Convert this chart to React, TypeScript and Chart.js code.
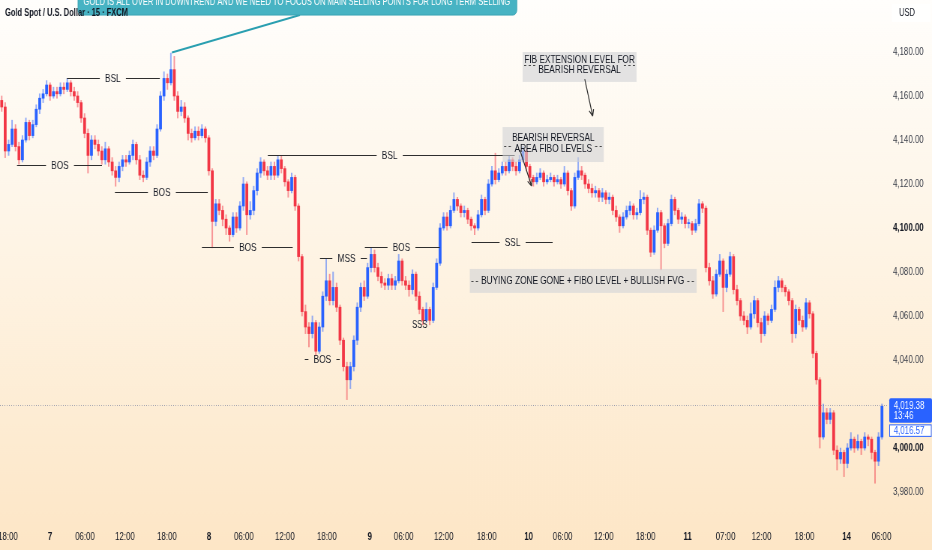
import React, { useEffect, useRef } from 'react';
import { Chart, registerables } from 'chart.js';

Chart.register(...registerables);

// ---- candle data (30-minute slots) ----
const opens = [
  4158, 4155, 4135, 4138, 4145, 4137, 4131, 4140, 4148, 4142,
  4147, 4154, 4159, 4161, 4165, 4160, 4162, 4161, 4164, 4163,
  4166, 4162, 4160, 4157, 4150, 4143, 4133, 4140, 4138, 4135,
  4131, 4136, 4130, 4126, 4123, 4128, 4131, 4130, 4133, 4138,
  4131, 4124, 4123, 4130, 4135, 4133, 4145, 4160, 4168, 4166,
  4172, 4160, 4153, 4155, 4150, 4143, 4141, 4144, 4142, 4145,
  4141, 4126, 4103, 4111, 4108, 4104, 4100, 4097, 4105, 4100,
  4110, 4120, 4106, 4108, 4117, 4125, 4130, 4126, 4124, 4128,
  4124, 4131, 4127, 4121, 4117, 4123, 4110, 4087, 4062, 4055,
  4052, 4057, 4044, 4055, 4069, 4076, 4067, 4073, 4064, 4049,
  4037, 4031, 4037, 4049, 4064, 4073, 4069, 4082, 4088, 4082,
  4078, 4075, 4074, 4077, 4074, 4076, 4085, 4076, 4074, 4072,
  4079, 4069, 4063, 4058, 4063, 4058, 4073, 4084, 4100, 4105,
  4101, 4108, 4113, 4110, 4107, 4108, 4104, 4101, 4100, 4106,
  4113, 4108, 4120, 4126, 4122, 4125, 4128, 4126, 4131, 4128,
  4126, 4131, 4135, 4128, 4123, 4121, 4123, 4125, 4121, 4122,
  4123, 4121, 4122, 4120, 4125, 4117, 4110, 4123, 4126, 4124,
  4120, 4118, 4116, 4117, 4114, 4116, 4113, 4114, 4108, 4105,
  4101, 4105, 4108, 4110, 4106, 4107, 4113, 4114, 4099, 4089,
  4099, 4107, 4101, 4093, 4102, 4113, 4108, 4104, 4105, 4102,
  4102, 4099, 4102, 4111, 4109, 4082, 4076, 4070, 4079, 4085,
  4073, 4079, 4087, 4072, 4067, 4060, 4058, 4055, 4061, 4067,
  4057, 4052, 4060, 4058, 4063, 4073, 4076, 4073, 4071, 4067,
  4052, 4063, 4058, 4055, 4066, 4061, 4043, 4031, 4005, 4016,
  4013, 4016, 3999, 3995, 3998, 3993, 4000, 4004, 4000, 4003,
  4000, 4005, 4004, 3998, 3994, 4005,
];

const highs = [
  4160, 4157, 4140, 4149, 4147, 4139, 4142, 4150, 4149, 4149,
  4156, 4161, 4163, 4167, 4166, 4164, 4164, 4166, 4166, 4168,
  4167, 4164, 4162, 4158, 4152, 4145, 4142, 4142, 4140, 4137,
  4139, 4137, 4132, 4128, 4130, 4133, 4133, 4135, 4140, 4139,
  4133, 4126, 4132, 4137, 4137, 4147, 4162, 4171, 4170, 4179.5,
  4178, 4162, 4158, 4157, 4151, 4145, 4146, 4146, 4147, 4146,
  4142, 4127, 4113, 4113, 4110, 4106, 4101, 4107, 4107, 4112,
  4123, 4121, 4112, 4119, 4127, 4132, 4131, 4128, 4130, 4130,
  4133, 4133, 4128, 4122, 4125, 4124, 4111, 4088, 4065, 4057,
  4060, 4058, 4057, 4071, 4086, 4079, 4080, 4075, 4065, 4050,
  4039, 4039, 4051, 4066, 4075, 4076, 4084, 4091, 4090, 4084,
  4080, 4077, 4079, 4079, 4078, 4088, 4086, 4078, 4076, 4081,
  4080, 4071, 4064, 4066, 4064, 4075, 4086, 4102, 4107, 4107,
  4110, 4116, 4114, 4111, 4110, 4109, 4105, 4102, 4108, 4115,
  4114, 4122, 4128, 4134, 4127, 4130, 4130, 4133, 4132, 4130,
  4133, 4137, 4136, 4129, 4124, 4125, 4127, 4126, 4124, 4125,
  4124, 4124, 4123, 4128, 4126, 4118, 4125, 4132, 4128, 4125,
  4122, 4120, 4119, 4118, 4118, 4117, 4116, 4115, 4110, 4106,
  4107, 4110, 4112, 4111, 4109, 4117, 4116, 4115, 4100, 4101,
  4109, 4108, 4102, 4104, 4115, 4114, 4109, 4107, 4106, 4104,
  4103, 4104, 4113, 4112, 4110, 4084, 4078, 4081, 4088, 4086,
  4081, 4089, 4088, 4074, 4068, 4062, 4060, 4066, 4069, 4068,
  4059, 4062, 4061, 4065, 4076, 4078, 4077, 4074, 4072, 4068,
  4065, 4064, 4060, 4068, 4067, 4062, 4044, 4032, 4020, 4018,
  4018, 4017, 4001, 4000, 3999, 4002, 4007, 4005, 4006, 4004,
  4007, 4006, 4005, 3999, 4007, 4020,
];

const lows = [
  4153, 4132, 4133, 4137, 4135, 4129, 4130, 4139, 4140, 4141,
  4146, 4152, 4157, 4160, 4158, 4159, 4159, 4160, 4161, 4162,
  4160, 4158, 4155, 4148, 4141, 4125, 4131, 4136, 4133, 4129,
  4129, 4128, 4124, 4119, 4121, 4126, 4128, 4129, 4131, 4129,
  4122, 4121, 4122, 4128, 4131, 4132, 4144, 4158, 4163, 4165,
  4158, 4150, 4151, 4148, 4140, 4139, 4140, 4140, 4141, 4139,
  4124, 4091, 4101, 4106, 4101, 4097, 4094, 4096, 4098, 4099,
  4108, 4097, 4104, 4106, 4115, 4123, 4124, 4122, 4122, 4122,
  4123, 4125, 4119, 4114, 4116, 4108, 4085, 4060, 4052, 4046,
  4050, 4042, 4043, 4053, 4067, 4065, 4065, 4062, 4047, 4035,
  4022, 4027, 4035, 4047, 4062, 4067, 4068, 4080, 4080, 4076,
  4073, 4072, 4072, 4072, 4072, 4075, 4074, 4072, 4069, 4070,
  4067, 4061, 4056, 4057, 4056, 4057, 4072, 4083, 4099, 4099,
  4100, 4107, 4108, 4105, 4105, 4102, 4099, 4097, 4099, 4105,
  4106, 4107, 4119, 4120, 4121, 4124, 4124, 4125, 4126, 4124,
  4125, 4130, 4126, 4121, 4119, 4120, 4122, 4119, 4120, 4121,
  4119, 4120, 4118, 4119, 4115, 4108, 4109, 4122, 4122, 4118,
  4116, 4114, 4114, 4112, 4112, 4111, 4111, 4106, 4103, 4098,
  4100, 4104, 4106, 4104, 4104, 4106, 4111, 4097, 4087, 4088,
  4098, 4081, 4091, 4092, 4101, 4106, 4102, 4102, 4100, 4100,
  4097, 4098, 4101, 4107, 4080, 4074, 4068, 4069, 4078, 4062,
  4071, 4078, 4070, 4065, 4058, 4056, 4052, 4054, 4059, 4055,
  4048, 4051, 4056, 4057, 4062, 4071, 4071, 4069, 4065, 4048,
  4050, 4056, 4053, 4054, 4059, 4041, 4029, 4000, 4004, 4011,
  4011, 3997, 3990, 3993, 3987, 3991, 3999, 3998, 3999, 3997,
  3999, 4001, 3995, 3984, 3992, 4004,
];

const closes = [
  4155, 4135, 4138, 4145, 4137, 4131, 4140, 4148, 4142, 4147,
  4154, 4159, 4161, 4165, 4160, 4162, 4161, 4164, 4163, 4166,
  4162, 4160, 4157, 4150, 4143, 4133, 4140, 4138, 4135, 4131,
  4136, 4130, 4126, 4123, 4128, 4131, 4130, 4133, 4138, 4131,
  4124, 4123, 4130, 4135, 4133, 4145, 4160, 4168, 4166, 4172,
  4160, 4153, 4155, 4150, 4143, 4141, 4144, 4142, 4145, 4141,
  4126, 4103, 4111, 4108, 4104, 4100, 4097, 4105, 4100, 4110,
  4120, 4106, 4108, 4117, 4125, 4130, 4126, 4124, 4128, 4124,
  4131, 4127, 4121, 4117, 4123, 4110, 4087, 4062, 4055, 4052,
  4057, 4044, 4055, 4069, 4076, 4067, 4073, 4064, 4049, 4037,
  4031, 4037, 4049, 4064, 4073, 4069, 4082, 4088, 4082, 4078,
  4075, 4074, 4077, 4074, 4076, 4085, 4076, 4074, 4072, 4079,
  4069, 4063, 4058, 4063, 4058, 4073, 4084, 4100, 4105, 4101,
  4108, 4113, 4110, 4107, 4108, 4104, 4101, 4100, 4106, 4113,
  4108, 4120, 4126, 4122, 4125, 4128, 4126, 4131, 4128, 4126,
  4131, 4135, 4128, 4123, 4121, 4123, 4125, 4121, 4122, 4123,
  4121, 4122, 4120, 4125, 4117, 4110, 4123, 4126, 4124, 4120,
  4118, 4116, 4117, 4114, 4116, 4113, 4114, 4108, 4105, 4101,
  4105, 4108, 4110, 4106, 4107, 4113, 4114, 4099, 4089, 4099,
  4107, 4101, 4093, 4102, 4113, 4108, 4104, 4105, 4102, 4102,
  4099, 4102, 4111, 4109, 4082, 4076, 4070, 4079, 4085, 4073,
  4079, 4087, 4072, 4067, 4060, 4058, 4055, 4061, 4067, 4057,
  4052, 4060, 4058, 4063, 4073, 4076, 4073, 4071, 4067, 4052,
  4063, 4058, 4055, 4066, 4061, 4043, 4031, 4005, 4016, 4013,
  4016, 3999, 3995, 3998, 3993, 4000, 4004, 4000, 4003, 4000,
  4005, 4004, 3998, 3994, 4005, 4019,
];

// ---- time axis ticks (in candle-index units) ----
const timeTickPositions = [
  1.82, 13.98, 24.11, 35.7, 47.86, 60.02, 70.15, 82.02, 94.18, 106.63, 116.47, 128.05,
  140.5, 152.66, 162.51, 174.38, 186.54, 198.7, 209.69, 220.12, 232.57, 244.73, 254.86,
];
const timeTickLabels = [
  '18:00', '7', '06:00', '12:00', '18:00', '8', '06:00', '12:00', '18:00', '9', '06:00', '12:00',
  '18:00', '10', '06:00', '12:00', '18:00', '11', '07:00', '12:00', '18:00', '14', '06:00',
];
const dayTickLabels = ['7', '8', '9', '10', '11', '14'];

const titleText = 'Gold Spot / U.S. Dollar · 15 · FXCM';
const currencyText = 'USD';
const lastPrice = 4019.38;
const lastPriceCountdown = '13:46';
const bidPrice = 4016.57;

// ---- drawings (in index / price units) ----
const levelLines = [
  { text: 'BOS', price: 4128.6, from: 4.43, to: 29.04, at: 16.88 },
  { text: 'BSL', price: 4168.3, from: 18.9, to: 45.8, at: 32.2 },
  { text: 'BOS', price: 4116.5, from: 32.8, to: 59.7, at: 46.4 },
  { text: 'BOS', price: 4091.5, from: 58.0, to: 84.3, at: 71.3 },
  { text: 'BSL', price: 4133.2, from: 77.1, to: 148.6, at: 112.4 },
  { text: 'MSS', price: 4086.2, from: 92.2, to: 105.8, at: 99.9 },
  { text: 'BOS', price: 4091.2, from: 105.2, to: 126.9, at: 115.8 },
  { text: 'BOS', price: 4040.5, from: 87.8, to: 97.9, at: 92.9 },
  { text: 'SSL', price: 4093.8, from: 136.1, to: 159.6, at: 148.0 },
];

const freeTexts = [{ text: 'SSS', at: 121.1, price: 4055.9 }];

const noteBoxes = [
  {
    lines: ['FIB EXTENSION LEVEL FOR', 'BEARISH REVERSAL'],
    from: 150.9, to: 183.9, top: 4180, bottom: 4166.4, center: 167.4,
    linePrices: [4176.6, 4171.8], dashPrice: 4174.1,
  },
  {
    lines: ['BEARISH REVERSAL', 'AREA FIBO LEVELS'],
    from: 145.1, to: 174.4, top: 4145.9, bottom: 4130, center: 159.8,
    linePrices: [4141.1, 4136.1], dashPrice: 4137.3,
  },
  {
    lines: ['BUYING ZONE GONE + FIBO LEVEL + BULLISH FVG'],
    from: 135.6, to: 201.3, top: 4081.4, bottom: 4070.5, center: 168.3,
    linePrices: [4075.9], dashPrice: 4075.9,
  },
];

const arrows = [
  { from: [168.9, 4167.7], to: [171.2, 4150.9] },
  { from: [150.1, 4135.5], to: [153.5, 4119.1] },
];

const callout = {
  text: 'GOLD IS ALL OVER IN DOWNTREND AND WE NEED TO FOCUS ON MAIN SELLING POINTS FOR LONG TERM SELLING',
  from: 22.1, to: 149.2, top: 4209, bottom: 4196.8, center: 85.5, textPrice: 4202.6,
  pointerFrom: [86.4, 4196.8], pointerTo: [49.3, 4179.8],
};

// ---- layout (canvas is drawn wider, then condensed horizontally like the screenshot) ----
const CANVAS_W = 1243;
const CANVAS_H = 550;
const FONT = '"Liberation Sans", Arial, sans-serif';
const UP = '#2962ff';
const DOWN = '#f23645';
const UP_WICK = 'rgba(41, 98, 255, 0.5)';
const DOWN_WICK = 'rgba(242, 54, 69, 0.5)';

function fmt(v: number) {
  return v.toLocaleString('en-US', { minimumFractionDigits: 2, maximumFractionDigits: 2 });
}

function zeroPadding(s: any) {
  s.paddingLeft = 0;
  s.paddingRight = 0;
  s.paddingTop = 0;
  s.paddingBottom = 0;
}

const drawingsPlugin = {
  id: 'drawings',
  beforeDraw(chart: any) {
    const { ctx, width, height } = chart;
    const g = ctx.createLinearGradient(0, 0, 0, height);
    g.addColorStop(0, '#fffefc');
    g.addColorStop(0.5, '#fef3e2');
    g.addColorStop(1, '#fde6c6');
    ctx.save();
    ctx.fillStyle = g;
    ctx.fillRect(0, 0, width, height);
    ctx.restore();
  },
  afterDatasetsDraw(chart: any) {
    const { ctx, chartArea } = chart;
    const xs = chart.scales.x;
    const ys = chart.scales.y;
    const px = (v: number) => xs.getPixelForValue(v);
    const py = (v: number) => ys.getPixelForValue(v);
    ctx.save();

    // last price dotted line
    const yl = Math.round(py(lastPrice)) + 0.5;
    ctx.strokeStyle = 'rgba(120, 130, 160, 0.75)';
    ctx.lineWidth = 1;
    ctx.setLineDash([1, 2]);
    ctx.beginPath();
    ctx.moveTo(chartArea.left, yl);
    ctx.lineTo(chartArea.right, yl);
    ctx.stroke();
    ctx.setLineDash([]);

    // level lines with labels
    ctx.font = `11px ${FONT}`;
    ctx.textAlign = 'center';
    ctx.textBaseline = 'middle';
    for (const l of levelLines) {
      const y = Math.round(py(l.price)) + 0.5;
      const cx = px(l.at);
      const tw = ctx.measureText(l.text).width;
      ctx.strokeStyle = '#2e2e2e';
      ctx.lineWidth = 1;
      ctx.beginPath();
      ctx.moveTo(px(l.from), y);
      ctx.lineTo(cx - tw / 2 - 7, y);
      ctx.moveTo(cx + tw / 2 + 7, y);
      ctx.lineTo(px(l.to), y);
      ctx.stroke();
      ctx.fillStyle = '#131722';
      ctx.fillText(l.text, cx, y + 0.5);
    }
    for (const t of freeTexts) {
      ctx.font = `10px ${FONT}`;
      ctx.fillStyle = '#131722';
      ctx.fillText(t.text, px(t.at), py(t.price));
    }

    // note boxes
    for (const b of noteBoxes) {
      const x1 = px(b.from);
      const x2 = px(b.to);
      const y1 = py(b.top);
      const y2 = py(b.bottom);
      ctx.fillStyle = 'rgba(208, 210, 214, 0.6)';
      ctx.fillRect(x1, y1, x2 - x1, y2 - y1);
      ctx.font = `11px ${FONT}`;
      const last = b.lines[b.lines.length - 1];
      const lw = ctx.measureText(last).width;
      const cx = px(b.center);
      const dy = Math.round(py(b.dashPrice)) + 0.5;
      ctx.strokeStyle = '#4a4a4a';
      ctx.setLineDash([3, 3]);
      ctx.beginPath();
      ctx.moveTo(x1 + 2, dy);
      ctx.lineTo(cx - lw / 2 - 4, dy);
      ctx.moveTo(cx + lw / 2 + 4, dy);
      ctx.lineTo(x2 - 2, dy);
      ctx.stroke();
      ctx.setLineDash([]);
      ctx.fillStyle = '#131722';
      b.lines.forEach((ln, k) => {
        ctx.fillText(ln, cx, py(b.linePrices[k]));
      });
    }

    // arrows
    ctx.strokeStyle = '#2e2e2e';
    ctx.lineWidth = 1.2;
    for (const a of arrows) {
      const ax = px(a.from[0]);
      const ay = py(a.from[1]);
      const bx = px(a.to[0]);
      const by = py(a.to[1]);
      const ang = Math.atan2(by - ay, bx - ax);
      ctx.beginPath();
      ctx.moveTo(ax, ay);
      ctx.lineTo(bx, by);
      ctx.moveTo(bx, by);
      ctx.lineTo(bx - 7 * Math.cos(ang - 0.45), by - 7 * Math.sin(ang - 0.45));
      ctx.moveTo(bx, by);
      ctx.lineTo(bx - 7 * Math.cos(ang + 0.45), by - 7 * Math.sin(ang + 0.45));
      ctx.stroke();
    }
    ctx.restore();
  },
  afterDraw(chart: any) {
    const { ctx, chartArea, width } = chart;
    const xs = chart.scales.x;
    const ys = chart.scales.y;
    const px = (v: number) => xs.getPixelForValue(v);
    const py = (v: number) => ys.getPixelForValue(v);
    ctx.save();

    // callout
    const cx1 = px(callout.from);
    const cx2 = px(callout.to);
    const cy1 = py(callout.top);
    const cy2 = py(callout.bottom);
    ctx.strokeStyle = '#2a9fb0';
    ctx.lineWidth = 2;
    ctx.beginPath();
    ctx.moveTo(px(callout.pointerFrom[0]), py(callout.pointerFrom[1]));
    ctx.lineTo(px(callout.pointerTo[0]), py(callout.pointerTo[1]));
    ctx.stroke();
    ctx.fillStyle = '#47b3c3';
    ctx.beginPath();
    (ctx as any).roundRect(cx1, cy1, cx2 - cx1, cy2 - cy1, 5);
    ctx.fill();
    ctx.strokeStyle = '#3aa5b5';
    ctx.lineWidth = 1;
    ctx.stroke();
    ctx.fillStyle = '#ffffff';
    ctx.font = `11px ${FONT}`;
    ctx.textAlign = 'center';
    ctx.textBaseline = 'middle';
    ctx.fillText(callout.text, px(callout.center), py(callout.textPrice), cx2 - cx1 - 16);

    // title
    ctx.textAlign = 'left';
    ctx.fillStyle = '#131722';
    ctx.font = `bold 10px ${FONT}`;
    ctx.fillText(titleText, 6.7, 13.5);

    // currency
    ctx.fillStyle = 'rgba(255,255,255,0.75)';
    ctx.fillRect(chartArea.right + 4, 4, width - chartArea.right - 6, 18);
    ctx.fillStyle = '#131722';
    ctx.font = `10px ${FONT}`;
    ctx.fillText(currencyText, chartArea.right + 14, 13.5);

    // last price label
    const yp = py(lastPrice);
    const left = chartArea.right + 1;
    ctx.fillStyle = '#2962ff';
    ctx.beginPath();
    (ctx as any).roundRect(left, yp - 7, width - left, 24.5, 2);
    ctx.fill();
    ctx.fillStyle = '#ffffff';
    ctx.font = `10.5px ${FONT}`;
    ctx.fillText(fmt(lastPrice), left + 6, yp + 0.5);
    ctx.fillText(lastPriceCountdown, left + 6, yp + 11);
    // bid label
    ctx.fillStyle = '#ffffff';
    ctx.fillRect(left + 0.5, yp + 19.5, width - left - 1.5, 11.5);
    ctx.strokeStyle = '#2962ff';
    ctx.lineWidth = 1;
    ctx.strokeRect(left + 0.5, yp + 19.5, width - left - 1.5, 11.5);
    ctx.fillStyle = '#2962ff';
    ctx.fillText(fmt(bidPrice), left + 6, yp + 25.5);
    ctx.restore();
  },
};

export default function App() {
  const ref = useRef<HTMLCanvasElement>(null);

  useEffect(() => {
    const canvas = ref.current;
    if (!canvas) return;
    const bodyData = closes.map((c, i) => ({ x: i, y: [opens[i], c] }));
    const wickData = closes.map((c, i) => ({ x: i, y: [lows[i], highs[i]] }));
    const bodyColors = closes.map((c, i) => (c >= opens[i] ? UP : DOWN));
    const wickColors = closes.map((c, i) => (c >= opens[i] ? UP_WICK : DOWN_WICK));

    const chart = new Chart(canvas, {
      type: 'bar',
      data: {
        datasets: [
          {
            label: 'body',
            data: bodyData as any,
            backgroundColor: bodyColors,
            barThickness: 3.1,
            minBarLength: 1,
            borderWidth: 0,
            borderSkipped: false,
            grouped: false,
            order: 0,
          } as any,
          {
            label: 'wick',
            data: wickData as any,
            backgroundColor: wickColors,
            barThickness: 1.3,
            borderWidth: 0,
            borderSkipped: false,
            grouped: false,
            order: 1,
          } as any,
        ],
      },
      options: {
        responsive: false,
        animation: false,
        events: [],
        layout: { padding: 0 },
        plugins: {
          legend: { display: false },
          tooltip: { enabled: false },
        },
        scales: {
          x: {
            type: 'linear',
            min: -0.494,
            max: 256.9,
            offset: false,
            grid: { display: false, drawTicks: false },
            border: { display: false },
            afterFit: (s: any) => {
              s.height = 25;
              zeroPadding(s);
            },
            afterBuildTicks: (s: any) => {
              s.ticks = timeTickPositions.map((v) => ({ value: v }));
            },
            ticks: {
              autoSkip: false,
              maxRotation: 0,
              minRotation: 0,
              padding: 6,
              color: '#131722',
              font: (c: any) => ({
                family: FONT,
                size: 10.5,
                weight: dayTickLabels.includes(timeTickLabels[c.index]) ? 'bold' : 'normal',
              }),
              callback: (_v: any, i: number) => timeTickLabels[i],
            },
          } as any,
          y: {
            type: 'linear',
            position: 'right',
            min: 3965,
            max: 4203.64,
            grid: { display: false, drawTicks: false },
            border: { display: false },
            afterBuildTicks: (s: any) => {
              s.ticks = s.ticks.filter((t: any) => t.value <= 4190);
            },
            afterFit: (s: any) => {
              s.width = 58;
              zeroPadding(s);
            },
            ticks: {
              stepSize: 20,
              includeBounds: false,
              padding: 6,
              color: (c: any) => (c.tick && c.tick.value % 100 === 0 ? '#131722' : '#3b3f4a'),
              font: (c: any) => ({
                family: FONT,
                size: 10.5,
                weight: c.tick && c.tick.value % 100 === 0 ? 'bold' : 'normal',
              }),
              callback: (v: any) => fmt(Number(v)),
            },
          } as any,
        },
      },
      plugins: [drawingsPlugin as any],
    });
    return () => chart.destroy();
  }, []);

  return (
    <div style={{ position: 'fixed', left: 0, top: 0, width: 932, height: 550, overflow: 'hidden' }}>
      <canvas
        ref={ref}
        width={CANVAS_W}
        height={CANVAS_H}
        style={{ width: '932px', height: '550px', display: 'block' }}
      />
    </div>
  );
}
